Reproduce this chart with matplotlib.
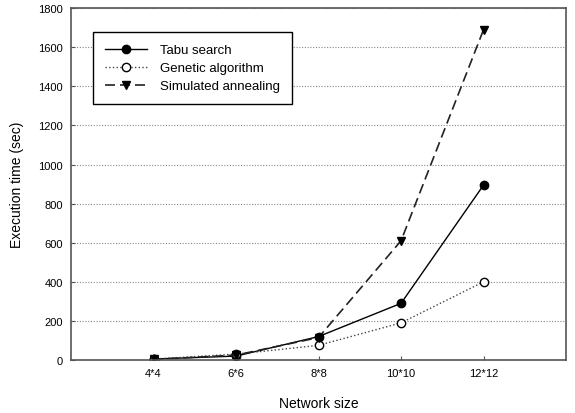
import numpy as np
import matplotlib
matplotlib.use('Agg')
import matplotlib.pyplot as plt

plt.rcParams['font.family'] = ['Liberation Sans', 'DejaVu Sans']

sizes = ['4*4', '6*6', '8*8', '10*10', '12*12']
tabu = [5, 20, 120, 290, 895]
genetic = [5, 30, 75, 190, 400]
annealing = [3, 25, 115, 610, 1690]

x = np.arange(1, len(sizes) + 1)

fig = plt.figure(figsize=(5.75, 4.14), dpi=100)
ax = fig.add_axes([0.1235, 0.128, 0.861, 0.85])

ax.plot(x, tabu, '-', color='black', lw=1.0, marker='o', ms=6,
        mfc='black', mec='black', label='Tabu search')
ax.plot(x, genetic, ':', color='#444444', lw=1.0, marker='o', ms=6,
        mfc='white', mec='black', label='Genetic algorithm')
ax.plot(x, annealing, '--', color='#222222', lw=1.2, dashes=(6, 3), marker='v', ms=6,
        mfc='black', mec='black', label='Simulated annealing')

ax.set_xlim(0, 6)
ax.set_ylim(0, 1800)
ax.set_xticks(x)
ax.set_xticklabels(sizes)
ax.set_yticks(np.arange(0, 1801, 200))
ax.tick_params(direction='in', length=3, labelsize=8, color='#555555', pad=6)
ax.yaxis.grid(True, linestyle=(0, (1, 1.5)), color='#888888', lw=0.8)
ax.set_axisbelow(True)
for s in ax.spines.values():
    s.set_color('#555555')
    s.set_linewidth(1.2)

ax.set_xlabel('Network size', fontsize=10, labelpad=13)
ax.set_ylabel('Execution time (sec)', fontsize=10, labelpad=10)

leg = ax.legend(loc='upper left', bbox_to_anchor=(0.044, 0.932), fontsize=9.5,
                fancybox=False, framealpha=1, edgecolor='black',
                handlelength=3.2, borderpad=0.9, labelspacing=0.45,
                handletextpad=1.0, borderaxespad=0)
leg.get_frame().set_linewidth(1.0)

fig.savefig('out.png', dpi=100)
